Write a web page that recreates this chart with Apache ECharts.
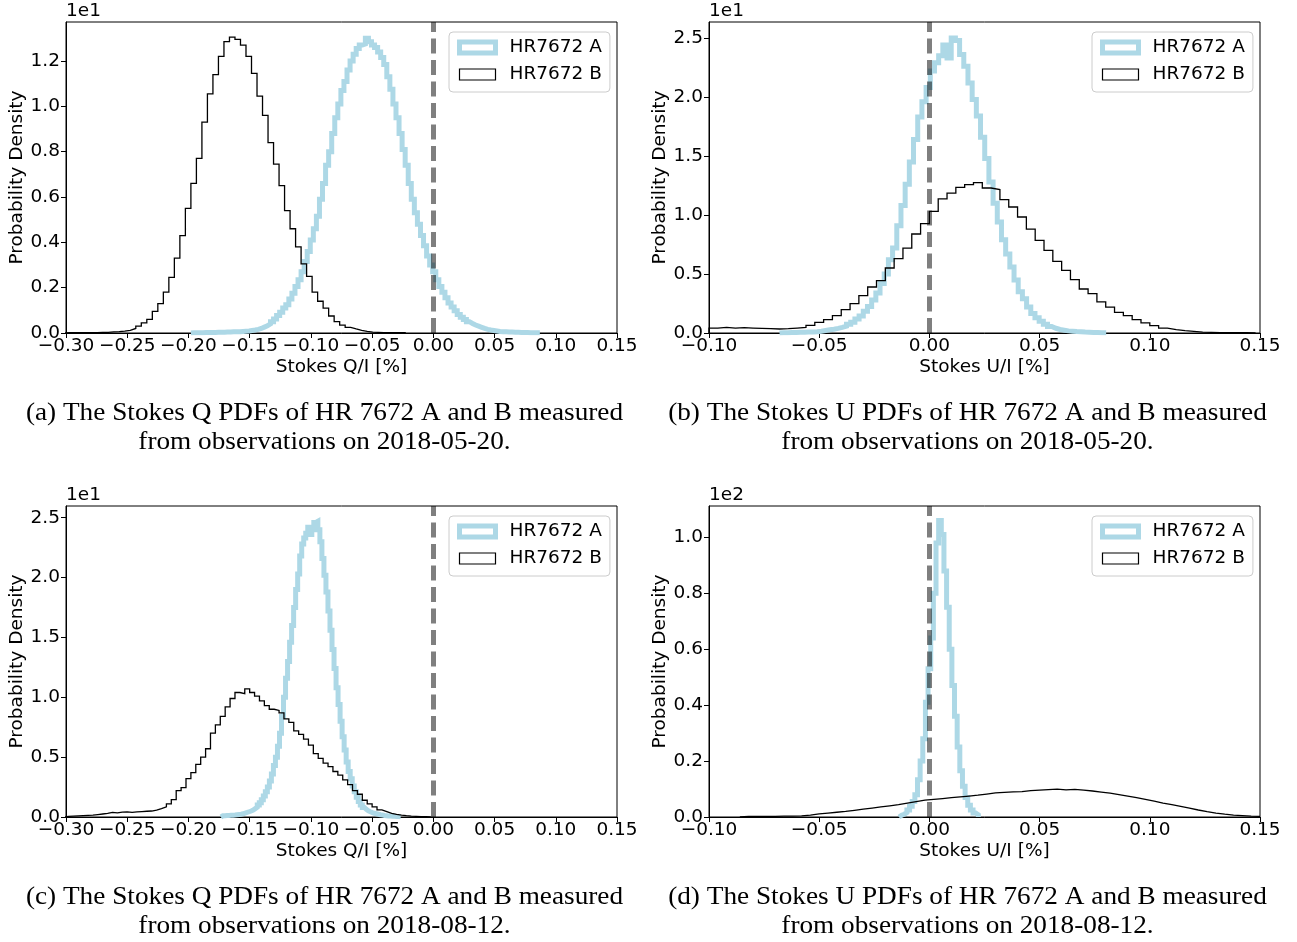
<!DOCTYPE html>
<html>
<head>
<meta charset="utf-8">
<title>Stokes Q and U PDFs of HR 7672 A and B</title>
<script src="https://cdn.jsdelivr.net/npm/echarts@6/dist/echarts.min.js"></script>
<style>
  html, body { margin: 0; padding: 0; background: #ffffff; }
  #chart { width: 1297px; height: 942px; }
</style>
</head>
<body>
<div id="chart"></div>
<script>
// ---------------------------------------------------------------------------
// Histogram data: each series is a list of probability densities per bin,
// with the left edge of the first bin and the bin width (both in % of I).
// ---------------------------------------------------------------------------

// Stokes Q, 2018-05-20
const qMayStartA = -0.198, qMayWidthA = 0.0025;
const qMayDensityA = [
  0.01, 0.01, 0.01, 0.01, 0.02, 0.02, 0.02, 0.02, 0.03, 0.03,
  0.03, 0.04, 0.04, 0.05, 0.05, 0.06, 0.07, 0.08, 0.09, 0.11,
  0.13, 0.16, 0.20, 0.26, 0.32, 0.40, 0.50, 0.62, 0.77, 0.92,
  1.10, 1.25, 1.50, 1.75, 2.05, 2.35, 2.70, 3.15, 3.60, 4.10,
  4.60, 5.15, 5.90, 6.60, 7.40, 8.00, 8.80, 9.50, 10.10, 10.70,
  11.10, 11.60, 12.00, 12.30, 12.55, 12.70, 12.75, 13.00, 12.85, 12.70,
  12.60, 12.40, 12.15, 11.85, 11.30, 10.75, 10.10, 9.50, 8.80, 8.10,
  7.40, 6.60, 5.90, 5.30, 4.80, 4.30, 3.85, 3.40, 3.00, 2.70,
  2.35, 2.05, 1.80, 1.55, 1.32, 1.15, 0.98, 0.82, 0.70, 0.60,
  0.50, 0.42, 0.35, 0.30, 0.25, 0.20, 0.16, 0.13, 0.11, 0.09,
  0.07, 0.06, 0.05, 0.04, 0.04, 0.03, 0.03, 0.02, 0.02, 0.02,
  0.01, 0.01, 0.01, 0.01
];
const qMayStartB = -0.3015, qMayWidthB = 0.0045;
const qMayDensityB = [
  0.01, 0.01, 0.01, 0.01, 0.02, 0.02, 0.03, 0.03, 0.05, 0.06,
  0.08, 0.12, 0.20, 0.30, 0.45, 0.60, 0.95, 1.30, 1.80, 2.45,
  3.30, 4.30, 5.50, 6.60, 7.70, 9.30, 10.55, 11.40, 12.20, 12.85,
  13.05, 12.95, 12.70, 12.20, 11.45, 10.45, 9.60, 8.40, 7.45, 6.50,
  5.40, 4.60, 3.80, 3.05, 2.50, 1.80, 1.40, 1.10, 0.75, 0.50,
  0.35, 0.25, 0.18, 0.12, 0.07, 0.04, 0.03, 0.02, 0.02, 0.01, 0.01, 0.01
];

// Stokes U, 2018-05-20
const uMayStartA = -0.068, uMayWidthA = 0.0019;
const uMayDensityA = [
  0.03, 0.03, 0.04, 0.05, 0.06, 0.07, 0.08, 0.09, 0.10, 0.15,
  0.21, 0.27, 0.32, 0.39, 0.47, 0.58, 0.75, 0.92, 1.18, 1.45,
  1.85, 2.25, 2.80, 3.40, 4.20, 5.00, 6.20, 7.20, 9.10, 10.80,
  12.60, 14.50, 16.40, 18.30, 19.60, 20.80, 22.20, 22.90, 23.50, 24.40,
  23.30, 25.00, 24.80, 23.60, 22.60, 21.20, 19.80, 18.40, 16.60, 14.80,
  12.80, 11.00, 9.40, 7.90, 6.70, 5.60, 4.50, 3.50, 2.90, 2.20,
  1.65, 1.30, 1.00, 0.75, 0.55, 0.40, 0.30, 0.24, 0.18, 0.15,
  0.12, 0.10, 0.08, 0.07, 0.05, 0.04, 0.03, 0.03
];
const uMayStartB = -0.100, uMayWidthB = 0.004;
const uMayDensityB = [
  0.42, 0.48, 0.42, 0.45, 0.42, 0.40, 0.37, 0.34, 0.37, 0.42,
  0.48, 0.65, 0.90, 1.13, 1.47, 1.98, 2.49, 3.16, 3.90, 4.44,
  5.51, 6.30, 7.20, 8.39, 9.27, 10.31, 11.36, 11.86, 12.34, 12.57,
  12.74, 12.29, 12.15, 11.30, 10.68, 9.83, 8.81, 7.85, 7.00, 6.07,
  5.31, 4.52, 3.73, 3.33, 2.63, 2.20, 1.75, 1.47, 1.13, 0.85,
  0.62, 0.42, 0.28, 0.20, 0.14, 0.08, 0.06, 0.04, 0.03, 0.02,
  0.02, 0.01
];

// Stokes Q, 2018-08-12
const qAugStartA = -0.1735, qAugWidthA = 0.00165;
const qAugDensityA = [
  0.10, 0.11, 0.12, 0.13, 0.14, 0.15, 0.16, 0.18, 0.20, 0.23,
  0.27, 0.33, 0.38, 0.44, 0.50, 0.58, 0.70, 0.82, 1.00, 1.20,
  1.45, 1.75, 2.10, 2.50, 3.00, 3.60, 4.30, 5.00, 5.90, 7.00,
  8.40, 10.00, 11.60, 13.00, 14.60, 16.00, 17.50, 19.00, 20.30, 21.80,
  22.80, 23.30, 23.70, 24.20, 23.60, 24.00, 24.60, 24.70, 24.00, 23.00,
  21.60, 20.20, 18.80, 17.20, 15.60, 14.00, 12.40, 10.80, 9.40, 8.00,
  6.70, 5.60, 4.60, 3.80, 3.20, 2.60, 2.10, 1.65, 1.30, 1.00,
  0.80, 0.64, 0.52, 0.44, 0.37, 0.31, 0.27, 0.23, 0.19, 0.16,
  0.13, 0.11, 0.09, 0.08, 0.07, 0.06, 0.05, 0.04, 0.03
];
const qAugStartB = -0.302, qAugWidthB = 0.004;
const qAugDensityB = [
  0.05, 0.08, 0.10, 0.12, 0.14, 0.15, 0.20, 0.25, 0.30, 0.38,
  0.35, 0.40, 0.42, 0.38, 0.42, 0.45, 0.48, 0.50, 0.58, 0.70,
  0.85, 1.10, 1.45, 2.20, 2.45, 3.20, 3.70, 4.40, 5.00, 5.70,
  7.00, 7.70, 8.40, 9.20, 9.90, 10.40, 10.30, 10.70, 10.40, 10.10,
  9.70, 9.30, 9.00, 8.90, 8.70, 8.20, 7.90, 7.20, 6.90, 6.50,
  6.00, 5.30, 4.90, 4.50, 4.20, 3.80, 3.50, 3.10, 2.70, 2.20,
  1.90, 1.40, 1.10, 0.85, 0.60, 0.45, 0.30, 0.22, 0.16, 0.11,
  0.07, 0.05, 0.03, 0.02, 0.01
];

// Stokes U, 2018-08-12
const uAugStartA = -0.0138, uAugWidthA = 0.0012;
const uAugDensityA = [
  0.6, 1.0, 1.6, 2.5, 3.8, 5.5, 8.0, 13.3, 20, 28,
  41, 53, 64, 80, 98, 106, 101, 88, 75, 60,
  47, 36, 25, 16.5, 11, 7, 4.2, 2.5, 1.4, 0.8
];
const uAugStartB = -0.086, uAugWidthB = 0.004;
const uAugDensityB = [
  0.2, 0.2, 0.2, 0.2, 0.3, 0.3, 0.4, 0.7, 1.1, 1.4,
  1.7, 2.0, 2.4, 2.8, 3.2, 3.6, 4.0, 4.4, 5.0, 5.5,
  6.0, 6.3, 6.6, 6.9, 7.2, 7.5, 7.8, 8.2, 8.6, 8.8,
  9.0, 9.1, 9.4, 9.6, 9.8, 10.0, 9.7, 9.9, 9.6, 9.3,
  8.9, 8.5, 8.0, 7.5, 6.9, 6.3, 5.7, 5.0, 4.4, 3.8,
  3.2, 2.5, 1.9, 1.4, 1.0, 0.7, 0.5, 0.3, 0.2
];

// Axis ticks
const qTicks = [-0.30, -0.25, -0.20, -0.15, -0.10, -0.05, 0.00, 0.05, 0.10, 0.15];
const uTicks = [-0.10, -0.05, 0.00, 0.05, 0.10, 0.15];
const qMayDensityTicks = [0, 2, 4, 6, 8, 10, 12];
const uMayDensityTicks = [0, 5, 10, 15, 20, 25];
const qAugDensityTicks = [0, 5, 10, 15, 20, 25];
const uAugDensityTicks = [0, 20, 40, 60, 80, 100];

const seriesNames = ['HR7672 A', 'HR7672 B'];
const zeroLevel = 0;

const captions = [
  ['(a) The Stokes Q PDFs of HR 7672 A and B measured', 'from observations on 2018-05-20.'],
  ['(b) The Stokes U PDFs of HR 7672 A and B measured', 'from observations on 2018-05-20.'],
  ['(c) The Stokes Q PDFs of HR 7672 A and B measured', 'from observations on 2018-08-12.'],
  ['(d) The Stokes U PDFs of HR 7672 A and B measured', 'from observations on 2018-08-12.']
];

// ---------------------------------------------------------------------------
// Layout of the four panels
// ---------------------------------------------------------------------------
const SANS = 'DejaVu Sans';
const SERIF = 'Liberation Serif';
const FS = 18.5;
const PLOT_W = 551, PLOT_H = 311;

const panels = [
  { left: 66,  top: 22,  xMin: -0.30, xMax: 0.15, xTicks: qTicks, xName: 'Stokes Q/I [%]',
    yMax: 13.72, yTicks: qMayDensityTicks, scale: 10, offset: '1e1',
    A: [qMayStartA, qMayWidthA, qMayDensityA], B: [qMayStartB, qMayWidthB, qMayDensityB] },
  { left: 709, top: 22,  xMin: -0.10, xMax: 0.15, xTicks: uTicks, xName: 'Stokes U/I [%]',
    yMax: 26.36, yTicks: uMayDensityTicks, scale: 10, offset: '1e1',
    A: [uMayStartA, uMayWidthA, uMayDensityA], B: [uMayStartB, uMayWidthB, uMayDensityB] },
  { left: 66,  top: 506, xMin: -0.30, xMax: 0.15, xTicks: qTicks, xName: 'Stokes Q/I [%]',
    yMax: 25.98, yTicks: qAugDensityTicks, scale: 10, offset: '1e1',
    A: [qAugStartA, qAugWidthA, qAugDensityA], B: [qAugStartB, qAugWidthB, qAugDensityB] },
  { left: 709, top: 506, xMin: -0.10, xMax: 0.15, xTicks: uTicks, xName: 'Stokes U/I [%]',
    yMax: 111.2, yTicks: uAugDensityTicks, scale: 100, offset: '1e2',
    A: [uAugStartA, uAugWidthA, uAugDensityA], B: [uAugStartB, uAugWidthB, uAugDensityB] }
];

// Turn bin densities into the outline of a step histogram
function stepOutline(start, width, values) {
  const pts = [[start, 0]];
  values.forEach((v, i) => {
    pts.push([start + i * width, v], [start + (i + 1) * width, v]);
  });
  pts.push([start + values.length * width, 0]);
  return pts;
}

function fmtSigned(v, digits) {
  const s = Math.abs(v).toFixed(digits);
  return v < -1e-9 ? '\u2212' + s : s;
}

const grid = [], xAxis = [], yAxis = [], series = [], legend = [], graphic = [];

panels.forEach((p, i) => {
  grid.push({
    left: p.left, top: p.top, width: PLOT_W, height: PLOT_H,
    show: true, borderColor: '#000', borderWidth: 1, backgroundColor: 'transparent'
  });

  xAxis.push({
    type: 'value', gridIndex: i, min: p.xMin, max: p.xMax,
    axisLine: { show: true, onZero: false, lineStyle: { color: '#000', width: 1 } },
    axisTick: { show: true, length: 5, customValues: p.xTicks, lineStyle: { color: '#000', width: 1 } },
    axisLabel: { customValues: p.xTicks, formatter: v => fmtSigned(v, 2),
                 color: '#000', fontSize: FS, fontFamily: SANS, margin: 4 },
    splitLine: { show: false },
    name: p.xName, nameLocation: 'middle', nameGap: 25,
    nameTextStyle: { color: '#000', fontSize: FS, fontFamily: SANS }
  });

  yAxis.push({
    type: 'value', gridIndex: i, min: 0, max: p.yMax,
    axisLine: { show: true, onZero: false, lineStyle: { color: '#000', width: 1 } },
    axisTick: { show: true, length: 5, customValues: p.yTicks, lineStyle: { color: '#000', width: 1 } },
    axisLabel: { customValues: p.yTicks, formatter: v => (v / p.scale).toFixed(1),
                 color: '#000', fontSize: FS, fontFamily: SANS, margin: 6 },
    splitLine: { show: false },
    name: 'Probability Density', nameLocation: 'middle', nameGap: 36, nameRotate: 90,
    nameTextStyle: { color: '#000', fontSize: FS, fontFamily: SANS }
  });

  series.push({
    name: seriesNames[0], type: 'line', xAxisIndex: i, yAxisIndex: i,
    data: stepOutline(...p.A), showSymbol: false, symbol: 'none', silent: true,
    lineStyle: { color: '#add8e6', width: 5, join: 'miter' }, itemStyle: { color: '#add8e6' },
    z: 2, animation: false
  });
  series.push({
    name: seriesNames[1], type: 'line', xAxisIndex: i, yAxisIndex: i,
    data: stepOutline(...p.B), showSymbol: false, symbol: 'none', silent: true,
    lineStyle: { color: '#000', width: 1.3, join: 'miter' }, itemStyle: { color: '#000' },
    z: 3, animation: false
  });
  // dashed reference line at zero polarisation
  series.push({
    name: 'zero', type: 'line', xAxisIndex: i, yAxisIndex: i, data: [],
    silent: true, animation: false, z: 4,
    markLine: {
      silent: true, symbol: ['none', 'none'], label: { show: false }, animation: false,
      lineStyle: { color: 'rgba(0,0,0,0.5)', width: 5, type: [15, 6.5] },
      data: [{ xAxis: zeroLevel }]
    }
  });

  legend.push({
    orient: 'vertical', left: p.left + 383, top: p.top + 10,
    selectedMode: false,
    data: [
      { name: seriesNames[0], icon: 'rect',
        itemStyle: { color: '#fff', borderColor: '#add8e6', borderWidth: 5 } },
      { name: seriesNames[1], icon: 'rect',
        itemStyle: { color: '#fff', borderColor: '#000', borderWidth: 1.2 } }
    ],
    itemWidth: 36, itemHeight: 11, itemGap: 8,
    padding: [6, 8, 8, 8],
    backgroundColor: 'rgba(255,255,255,0.8)', borderColor: '#cccccc', borderWidth: 1, borderRadius: 4,
    textStyle: { color: '#000', fontSize: FS, fontFamily: SANS, padding: [0, 0, 0, 9] }
  });

  // axis offset text (scale factor of the density axis)
  graphic.push({
    type: 'text', left: p.left, top: p.top - 20,
    style: { text: p.offset, fill: '#000', fontSize: FS, fontFamily: SANS }
  });

  // sub-figure caption
  const cx = p.left + PLOT_W / 2 - 17;
  const cy = p.top + 391;
  captions[i].forEach((line, k) => {
    graphic.push({
      type: 'text', x: cx, y: cy + k * 29, scaleX: 1.09,
      style: { text: line, fill: '#000', fontSize: 25, fontFamily: SERIF,
               align: 'center', verticalAlign: 'middle' }
    });
  });
});

const chart = echarts.init(document.getElementById('chart'), null, { renderer: 'canvas' });
chart.setOption({
  backgroundColor: '#ffffff',
  animation: false,
  grid, xAxis, yAxis, series, legend, graphic
});
</script>
</body>
</html>
